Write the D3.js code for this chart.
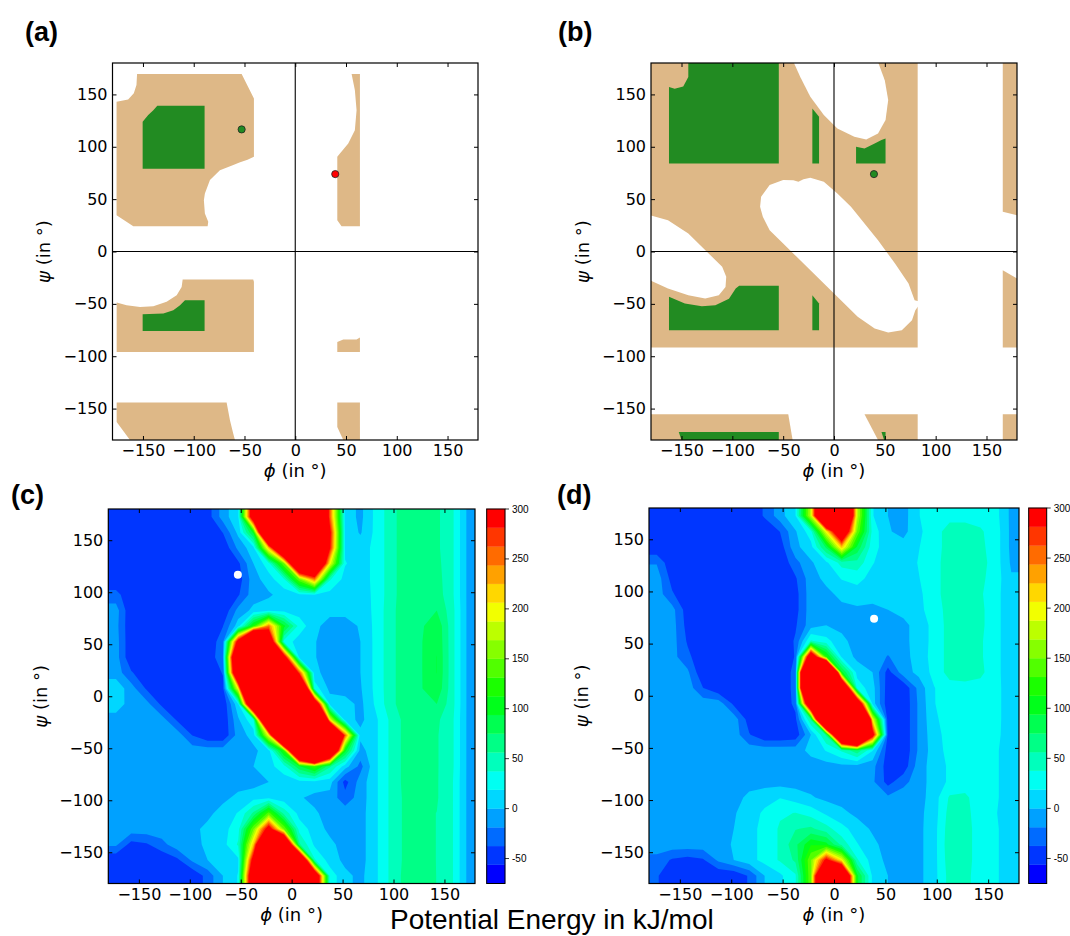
<!DOCTYPE html>
<html>
<head>
<meta charset="utf-8">
<script src="https://cdn.jsdelivr.net/npm/d3@7"></script>
<style>
  body { margin: 0; background: #fff; overflow: hidden; }
</style>
</head>
<body>
<div id="chart"></div>
<script>
// ---- values ----
const phiTicks = [-150, -100, -50, 0, 50, 100, 150];
const psiTicks = [-150, -100, -50, 0, 50, 100, 150];
const energyEdges = [-75, -56.25, -37.5, -18.75, 0, 18.75, 37.5, 56.25, 75, 93.75, 112.5,
  131.25, 150, 168.75, 187.5, 206.25, 225, 243.75, 262.5, 281.25, 300];
const colorbarTicks = [-50, 0, 50, 100, 150, 200, 250, 300];

// grid cell centres (phi columns, psi rows top -> bottom)
const gridPhi = [-172.5, -157.5, -142.5, -127.5, -112.5, -97.5, -82.5, -67.5, -52.5, -37.5, -22.5, -7.5,
  7.5, 22.5, 37.5, 52.5, 67.5, 82.5, 97.5, 112.5, 127.5, 142.5, 157.5, 172.5];
const gridPsi = [172.5, 157.5, 142.5, 127.5, 112.5, 97.5, 82.5, 67.5, 52.5, 37.5, 22.5, 7.5,
  -7.5, -22.5, -37.5, -52.5, -67.5, -82.5, -97.5, -112.5, -127.5, -142.5, -157.5, -172.5];

// potential energy (kJ/mol), panel (c)
const energyC = [
  [-54,-54,-54,-54,-54,-54,-47,-10,16,360,600,800,800,600,260,12,-5,24,48,70,68,60,42,-3],
  [-54,-54,-54,-54,-54,-54,-54,-37,5,100,600,900,900,700,300,14,-2,24,48,70,68,60,42,-3],
  [-54,-54,-54,-54,-54,-54,-54,-54,-14,12,220,500,800,700,290,15,10,24,48,70,68,60,42,-3],
  [-54,-54,-54,-54,-54,-54,-54,-54,-42,0,30,150,500,500,200,20,10,24,48,70,68,62,42,-3],
  [-54,-54,-54,-54,-54,-54,-54,-54,-48,-8,10,35,150,250,40,12,10,24,48,70,70,64,42,-3],
  [-30,-54,-54,-54,-54,-54,-54,-54,-40,-8,-3,8,14,16,12,8,8,24,48,70,70,66,42,-3],
  [-10,-54,-54,-54,-54,-54,-54,-54,-12,5,12,12,10,8,6,6,6,24,50,70,72,75,45,-3],
  [-12,-54,-54,-54,-54,-54,-54,-38,10,120,250,100,30,5,-8,-8,2,24,50,70,72,90,45,-3],
  [-10,-54,-54,-54,-54,-54,-54,-25,320,700,400,30,10,1,-8,-8,0,24,50,70,74,92,45,-3],
  [-10,-54,-54,-54,-54,-54,-54,-20,500,900,800,330,12,1,-8,-8,0,24,50,70,74,94,45,-3],
  [-8,-35,-54,-54,-54,-54,-54,-36,450,900,900,500,270,5,-8,-8,0,24,50,70,74,94,45,-3],
  [12,-10,-40,-54,-54,-54,-54,-44,200,800,900,900,600,30,-5,-8,-2,24,50,70,74,90,45,-3],
  [10,-8,-12,-42,-54,-54,-54,-54,15,500,900,900,900,400,10,8,-5,22,50,70,72,75,45,-3],
  [-8,-8,-8,-10,-40,-54,-54,-54,-3,35,600,900,900,900,200,10,-5,15,42,64,64,60,42,-3],
  [-8,-8,-8,-8,-8,-38,-54,-54,-10,8,200,700,900,900,700,260,5,15,42,64,62,58,42,-3],
  [-8,-8,-8,-8,-8,-8,-8,-8,-8,-5,12,120,600,900,500,100,-8,15,42,64,62,58,42,-3],
  [-8,-8,-8,-8,-8,-8,-8,-8,-8,0,12,30,90,130,60,8,-25,15,42,64,62,58,42,-3],
  [-8,-8,-8,-8,-8,-8,-8,-8,-8,-8,0,8,12,12,8,-45,-10,15,42,64,62,58,40,-3],
  [-8,-8,-8,-8,-8,-8,-8,-5,5,12,14,8,2,-5,-8,-30,-10,15,42,62,60,58,40,-3],
  [-8,-8,-8,-8,-8,-8,-5,8,20,60,140,50,12,3,-8,-8,-8,15,42,62,60,56,40,-3],
  [-8,-8,-8,-8,-8,-5,5,12,30,150,320,150,30,10,-5,-8,-8,15,42,62,60,56,40,-3],
  [-15,-45,-40,-25,-8,-8,5,12,40,220,600,500,60,15,5,-8,-8,15,42,62,60,56,40,-3],
  [-54,-54,-54,-54,-42,-15,0,10,15,320,900,900,500,40,10,-5,-8,15,42,62,60,56,40,-3],
  [-54,-54,-54,-54,-54,-54,-30,0,20,400,900,900,900,400,30,5,-5,15,42,64,62,56,40,-3]
];

// potential energy (kJ/mol), panel (d)
const energyD = [
  [-54,-54,-54,-54,-54,-54,-54,-35,-8,18,180,600,600,180,20,0,-8,18,30,32,32,30,25,-5],
  [-54,-54,-54,-54,-54,-54,-54,-54,-37,-2,30,200,400,150,30,2,-6,15,30,45,45,40,28,-5],
  [-54,-54,-54,-54,-54,-54,-54,-54,-48,-5,12,80,220,90,25,10,8,18,30,45,45,42,28,-5],
  [-20,-54,-54,-54,-54,-54,-54,-54,-54,-25,-3,15,45,50,20,8,8,20,30,48,50,45,28,-3],
  [-8,-45,-54,-54,-54,-54,-54,-54,-54,-40,-8,5,20,25,12,6,6,18,30,48,50,42,28,2],
  [-8,-35,-54,-54,-54,-54,-54,-54,-54,-45,-8,-5,5,10,8,5,5,15,30,48,50,40,25,5],
  [-8,-12,-48,-54,-54,-54,-54,-54,-54,-45,-8,-8,-5,-3,-5,0,6,14,28,45,50,42,25,5],
  [-8,-10,-45,-54,-54,-54,-54,-54,-54,-40,-8,0,-5,-8,-8,-8,-5,8,25,45,50,42,25,5],
  [-8,-10,-40,-54,-54,-54,-54,-54,-54,-35,40,25,5,-8,-8,-8,-5,8,25,45,48,40,25,5],
  [-8,-12,-32,-54,-54,-54,-54,-54,-54,-36,380,120,15,-5,-8,-20,-8,10,25,45,48,40,25,5],
  [-8,-10,-15,-54,-54,-54,-54,-54,-54,-30,900,800,100,12,0,-45,-8,5,25,45,48,42,25,5],
  [-8,-8,-8,-37,-54,-54,-54,-54,-54,-30,900,900,500,30,8,-48,-54,-12,18,30,30,30,26,5],
  [-8,-8,-8,-8,-8,-42,-54,-54,-54,-32,450,900,900,400,10,-50,-54,-15,18,28,28,28,26,5],
  [-8,-8,-8,-8,-8,-8,-47,-54,-54,-42,60,700,900,900,200,-50,-54,-15,15,28,28,28,26,5],
  [-8,-8,-8,-8,-8,-8,-36,-54,-54,-50,0,60,600,800,320,-45,-54,-15,12,26,26,26,25,5],
  [-8,-8,-8,-8,-8,-8,-8,-8,-8,-8,5,20,40,70,20,-48,-54,-15,10,25,25,25,22,5],
  [-8,-8,-8,-8,-8,-8,-8,-8,-8,-8,-8,-8,-5,-5,-12,-48,-50,-8,8,22,25,25,22,5],
  [-8,-8,-8,-8,-8,-8,-8,-8,-8,-8,-8,-8,-8,-8,-15,-45,-25,-8,8,22,26,24,22,5],
  [-8,-8,-8,-8,-8,-8,5,12,18,10,2,-5,-8,-8,-8,-15,-8,-8,10,40,42,25,22,5],
  [-8,-8,-8,-8,-8,-2,10,22,35,38,30,15,5,-5,-8,-8,-8,-5,10,45,45,25,20,5],
  [-8,-8,-8,-8,-8,0,12,25,40,55,60,45,25,10,-3,-8,-8,-5,12,48,48,25,22,5],
  [-8,-8,-8,-8,-8,2,12,25,40,70,110,100,50,20,5,-8,-8,-5,12,50,48,25,22,5],
  [-25,-40,-45,-40,-15,0,12,25,40,60,150,300,200,40,10,-5,-8,-5,12,48,48,25,22,5],
  [-35,-54,-54,-54,-54,-54,-35,0,15,35,150,600,500,100,15,0,-8,-5,12,45,45,25,22,5]
];

// panel (a): allowed (tan) and favoured (green) regions, [phi, psi] vertices
const allowedA = [
  [[-155.8,169.4],[-52.8,169.4],[-40.7,146.2],[-40.7,90.4],[-47,87.5],[-55,85],[-61,82.5],[-74.2,77.7],
   [-84,68.2],[-89,55.4],[-90,49],[-89,36.3],[-85.7,28.3],[-86.3,24.2],[-159.5,24.2],[-176,34.7],
   [-176,143],[-164.6,145.2],[-159,151],[-156.4,158.9]],
  [[-110.9,-26.8],[-41.4,-26.8],[-40.7,-29],[-40.7,-95.9],[-175.9,-95.9],[-175.9,-48.7],[-166.1,-51.3],
   [-152.9,-52.9],[-139.8,-52.2],[-126.7,-48.1],[-116.8,-41.7],[-111.9,-33.8]],
  [[-175.9,-144.3],[-67.6,-144.3],[-64.3,-161.1],[-61.1,-173.9],[-59.4,-180],[-162.8,-180],[-175.9,-162.7]],
  [[55.5,169.4],[63.7,169.4],[63.7,24.2],[45.6,24.2],[41.4,29.9],[41.4,90.4],[44,93.6],[52.2,103.2],
   [58.7,115.9],[60.4,135],[58.7,154.1]],
  [[41.4,-86.3],[47.3,-84.1],[60.4,-84.1],[63.7,-82.2],[63.7,-95.9],[41.4,-95.9]],
  [[41.4,-144.3],[63.7,-144.3],[63.7,-180],[47.3,-180],[41.4,-167.5]]
];
const favouredA = [
  [[-150.3,79],[-150.3,123.9],[-144.8,130.3],[-139.8,135],[-135.9,139.2],[-89.3,139.2],[-89.3,79]],
  [[-150.3,-75.8],[-150.3,-59.9],[-129.9,-59.2],[-120.1,-56.1],[-113.5,-51.3],[-108.6,-46.5],[-89.3,-46.5],[-89.3,-75.8]]
];

// panel (b)
const allowedB = [
  [[-180,180],[82.3,180],[82.3,-91.7],[-180,-91.7]],
  [[166,180],[180,180],[180,34.7],[166,37.9]],
  [[166,-17.8],[180,-25.8],[180,-91.7],[166,-91.7]],
  [[-180,-155.4],[-45,-155.4],[-40.7,-180],[-180,-180]],
  [[30,-155.4],[82.3,-155.4],[82.3,-180],[43.3,-180]],
  [[166,-155.4],[180,-155.4],[180,-180],[166,-180]]
];
const disallowedB = [
  [[43.3,181],[50,163.4],[53.3,144.6],[50.7,125.5],[43.3,112.7],[31.7,107],[20,109.6],[3.3,117.5],
   [-10,130.3],[-23.3,147.8],[-33.3,166.9],[-39.8,181]],
  [[-72.7,42.7],[-71.7,52.2],[-63.3,63.4],[-50,68.2],[-40,68],[-35,66.5],[-30,69],[-23.3,70.4],[-10,66.6],
   [3.3,55.4],[16.7,42.7],[30,26.8],[43.3,10.8],[60,-11.5],[73.3,-30.6],[79.3,-46.5],[83,-47.5],[83,-52],
   [80,-56],[76.7,-65.6],[66.7,-75.2],[53.3,-77.4],[40,-73.6],[23.3,-62.4],[3.3,-43.3],[-16.7,-24.2],
   [-36.7,-5.1],[-50,7.6],[-63.3,20.4],[-70,33.1]],
  [[-181,34.7],[-163.3,29.9],[-143.3,17.2],[-123.3,-1.9],[-110,-14.6],[-106,-24.2],[-106.7,-33.8],
   [-113.3,-41.7],[-126.7,-44.9],[-143.3,-41.7],[-163.3,-35.4],[-181,-27.4]]
];
const favouredB = [
  [[-143.3,180],[-143.3,166.6],[-148.3,157.6],[-156.7,155.4],[-162.3,157],[-162.3,84.1],[-54.3,84.1],[-54.3,180]],
  [[-21.3,136.6],[-14.7,128.7],[-14.7,84.1],[-21.3,84.1]],
  [[21.7,100],[30,98.4],[40,103.2],[46.7,106.4],[50.7,108],[50.7,84.1],[21.7,84.1]],
  [[-162.3,-43.3],[-146.7,-49.7],[-130,-52.2],[-116.7,-51.3],[-103.3,-45],[-96.7,-35.4],[-93.3,-32.8],
   [-54.3,-32.8],[-54.3,-75.2],[-162.3,-75.2]],
  [[-21.3,-41.7],[-14.7,-49.7],[-14.7,-75.2],[-21.3,-75.2]],
  [[-152.7,-172.3],[-54.3,-172.3],[-54.3,-180],[-150,-180]],
  [[46.7,-172.3],[50.7,-172.3],[50.7,-180],[49.3,-180]]
];

// marked conformations [phi, psi]
const pointsA = [[-52.8, 116.6], [39.4, 73.9]];
const pointsB = [[39.3, 73.9]];
const pointsC = [[-52.8, 116.8]];
const pointsD = [[39, 73.9]];

// ---- drawing ----
const W = 1070, H = 936;
const tan = "#deb887", green = "#228b22";
const bandColors = energyEdges.slice(0, -1).map((_, i) => d3.hsl(240 - 240 * i / 19, 1, 0.5).toString());

const svg = d3.select("#chart").append("svg").attr("width", W).attr("height", H);
const defs = svg.append("defs");

function scalesFor(box) {
  return {
    x: d3.scaleLinear().domain([-180, 180]).range([box.x0, box.x1]),
    y: d3.scaleLinear().domain([-180, 180]).range([box.y1, box.y0])
  };
}

function clipFor(id, box) {
  defs.append("clipPath").attr("id", id).append("rect")
    .attr("x", box.x0).attr("y", box.y0)
    .attr("width", box.x1 - box.x0).attr("height", box.y1 - box.y0);
}

function polyPath(x, y) {
  return pts => "M" + pts.map(p => x(p[0]) + "," + y(p[1])).join("L") + "Z";
}

function drawAxes(box, x, y) {
  const g = svg.append("g");
  g.append("g").attr("transform", `translate(0,${box.y1})`)
    .call(d3.axisBottom(x).tickValues(phiTicks).tickSize(-4).tickPadding(5));
  g.append("g").attr("transform", `translate(0,${box.y0})`)
    .call(d3.axisTop(x).tickValues(phiTicks).tickSize(-4).tickFormat(""));
  g.append("g").attr("transform", `translate(${box.x0},0)`)
    .call(d3.axisLeft(y).tickValues(psiTicks).tickSize(-4).tickPadding(5));
  g.append("g").attr("transform", `translate(${box.x1},0)`)
    .call(d3.axisRight(y).tickValues(psiTicks).tickSize(-4).tickFormat(""));
  g.selectAll(".domain").remove();
  g.selectAll(".tick line").attr("stroke", "#000");
  g.selectAll(".tick text").attr("font-family", "DejaVu Sans").attr("font-size", 16).attr("fill", "#000");
  g.append("rect").attr("x", box.x0).attr("y", box.y0)
    .attr("width", box.x1 - box.x0).attr("height", box.y1 - box.y0)
    .attr("fill", "none").attr("stroke", "#000").attr("stroke-width", 1.2);
}

function axisLabels(box, yLabelX) {
  const cx = (box.x0 + box.x1) / 2;
  const xl = svg.append("text").attr("x", cx).attr("y", box.y1 + 37)
    .attr("text-anchor", "middle").attr("font-family", "DejaVu Sans").attr("font-size", 18);
  xl.append("tspan").attr("font-style", "italic").text("ϕ");
  xl.append("tspan").text(" (in °)");
  const cy = (box.y0 + box.y1) / 2;
  const yl = svg.append("text").attr("transform", `translate(${yLabelX},${cy}) rotate(-90)`)
    .attr("text-anchor", "middle").attr("font-family", "DejaVu Sans").attr("font-size", 18);
  yl.append("tspan").attr("font-style", "italic").text("ψ");
  yl.append("tspan").text(" (in °)");
}

function panelTag(label, px, py) {
  svg.append("text").attr("x", px).attr("y", py)
    .attr("font-family", "Liberation Sans, Arial").attr("font-weight", "bold").attr("font-size", 27)
    .text(label);
}

function regionsPanel(id, box, allowed, holes, favoured, points, pointFills, yLabelX) {
  const {x, y} = scalesFor(box);
  clipFor(id, box);
  const poly = polyPath(x, y);
  const g = svg.append("g").attr("clip-path", `url(#${id})`);
  g.selectAll("path.allowed").data(allowed).join("path").attr("class", "allowed")
    .attr("d", poly).attr("fill", tan);
  g.selectAll("path.hole").data(holes).join("path").attr("class", "hole")
    .attr("d", poly).attr("fill", "#fff");
  g.selectAll("path.fav").data(favoured).join("path").attr("class", "fav")
    .attr("d", poly).attr("fill", green);
  g.append("line").attr("x1", x(0)).attr("x2", x(0)).attr("y1", box.y0).attr("y2", box.y1)
    .attr("stroke", "#000").attr("stroke-width", 1.1);
  g.append("line").attr("x1", box.x0).attr("x2", box.x1).attr("y1", y(0)).attr("y2", y(0))
    .attr("stroke", "#000").attr("stroke-width", 1.1);
  g.selectAll("circle").data(points).join("circle")
    .attr("cx", d => x(d[0])).attr("cy", d => y(d[1])).attr("r", 3.6)
    .attr("fill", (d, i) => pointFills[i]).attr("stroke", "#222").attr("stroke-width", 0.8);
  drawAxes(box, x, y);
  axisLabels(box, yLabelX);
}

// repeat the outer rows/columns so the contour corners fall outside the plot box
function padEdges(grid) {
  const rows = grid.map(r => [r[0], ...r, r[r.length - 1]]);
  return [rows[0], ...rows, rows[rows.length - 1]];
}

function energyPanel(id, box, cbar, grid, points, yLabelX) {
  const {x, y} = scalesFor(box);
  clipFor(id, box);
  const padded = padEdges(grid);
  const n = gridPhi.length + 2, m = gridPsi.length + 2;
  const gx = d3.scaleLinear().domain([1, n - 1]).range([-180, 180]);
  const gy = d3.scaleLinear().domain([1, m - 1]).range([180, -180]);
  const proj = d3.geoTransform({
    point(px, py) { this.stream.point(x(gx(px)), y(gy(py))); }
  });
  const path = d3.geoPath(proj);
  const bands = d3.contours().size([n, m]).thresholds(energyEdges.slice(0, -1))(padded.flat());
  const g = svg.append("g").attr("clip-path", `url(#${id})`);
  g.selectAll("path").data(bands).join("path")
    .attr("d", path).attr("fill", (d, i) => bandColors[i]);
  g.selectAll("circle").data(points).join("circle")
    .attr("cx", d => x(d[0])).attr("cy", d => y(d[1])).attr("r", 4).attr("fill", "#fff");
  drawAxes(box, x, y);
  axisLabels(box, yLabelX);

  // colour bar
  const cy = d3.scaleLinear().domain([energyEdges[0], energyEdges[energyEdges.length - 1]]).range([cbar.y1, cbar.y0]);
  const cb = svg.append("g");
  cb.selectAll("rect.band").data(bandColors).join("rect").attr("class", "band")
    .attr("x", cbar.x0).attr("width", cbar.x1 - cbar.x0)
    .attr("y", (c, i) => cy(energyEdges[i + 1]))
    .attr("height", (c, i) => cy(energyEdges[i]) - cy(energyEdges[i + 1]))
    .attr("fill", c => c).attr("stroke", c => c).attr("stroke-width", 0.3);
  cb.append("rect").attr("x", cbar.x0).attr("y", cbar.y0)
    .attr("width", cbar.x1 - cbar.x0).attr("height", cbar.y1 - cbar.y0)
    .attr("fill", "none").attr("stroke", "#000").attr("stroke-width", 1);
  const t = cb.selectAll("g.cbt").data(colorbarTicks).join("g").attr("class", "cbt")
    .attr("transform", d => `translate(${cbar.x1},${cy(d)})`);
  t.append("line").attr("x1", 0).attr("x2", 4).attr("stroke", "#000").attr("stroke-width", 0.8);
  t.append("text").attr("x", 7).attr("dy", "0.35em")
    .attr("font-family", "Liberation Sans, Arial").attr("font-size", 10).attr("fill", "#000")
    .text(d => d);
}

const boxA = {x0: 112.5, x1: 478, y0: 63, y1: 440};
const boxB = {x0: 651, x1: 1017, y0: 63, y1: 440};
const boxC = {x0: 108.3, x1: 475, y0: 509, y1: 883.5};
const boxD = {x0: 649, x1: 1019, y0: 508, y1: 883.5};

regionsPanel("clipA", boxA, allowedA, [], favouredA, pointsA, [green, "#ff0000"], 50);
regionsPanel("clipB", boxB, allowedB, disallowedB, favouredB, pointsB, [green], 589);
energyPanel("clipC", boxC, {x0: 486.7, x1: 505, y0: 509, y1: 883.5}, energyC, pointsC, 47);
energyPanel("clipD", boxD, {x0: 1028.7, x1: 1046.7, y0: 508, y1: 883.5}, energyD, pointsD, 588);

panelTag("(a)", 25, 41);
panelTag("(b)", 558, 41);
panelTag("(c)", 11, 504);
panelTag("(d)", 557, 504);

svg.append("text").attr("x", 390).attr("y", 929)
  .attr("font-family", "Liberation Sans, Arial").attr("font-size", 28).attr("fill", "#000")
  .text("Potential Energy in kJ/mol");
</script>
</body>
</html>
